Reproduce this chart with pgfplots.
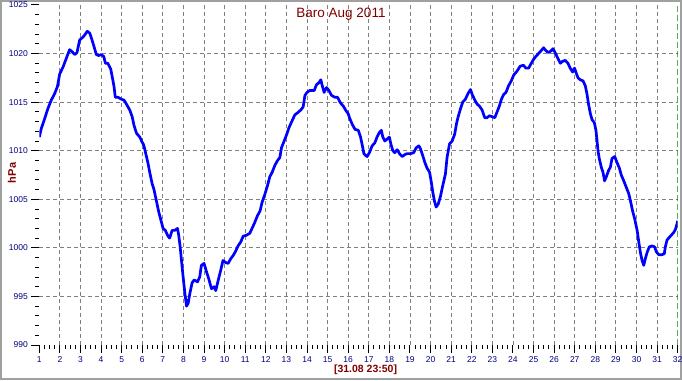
\documentclass[border=0pt]{standalone}
\usepackage{pgfplots}
\pgfplotsset{compat=1.18}
\usepackage{fontspec}
\setmainfont{Liberation Sans}
\definecolor{maroonT}{HTML}{800000}
\definecolor{navyT}{HTML}{000080}
\definecolor{gridT}{HTML}{808080}
\definecolor{greenT}{HTML}{008000}
\definecolor{frameT}{HTML}{A0A0A0}
\begin{document}
\begin{tikzpicture}[x=1pt,y=1pt]
\path[use as bounding box] (0,0) rectangle (682,380);
\draw[frameT, line width=1.6pt] (0.8,0.8) rectangle (681.2,379.2);
\begin{axis}[
  at={(39.3pt,35pt)}, anchor=south west,
  scale only axis, width=638.4pt, height=340pt,
  xmin=1, xmax=32, ymin=990, ymax=1025,
  xtick={1,...,32}, ytick={990,995,...,1025},
  minor x tick num=3, minor y tick num=4,
  axis lines*=left,
  axis line style={draw=none},
  tick align=outside,
  major tick length=8pt, minor tick length=4pt,
  tick style={black, line width=1pt},
  ticklabel style={font=\fontsize{8.5}{10}\selectfont, text=navyT},
  /pgf/number format/assume math mode=true,
  /pgf/number format/1000 sep={},
  extra x ticks={2,...,31}, extra x tick labels={},
  extra y ticks={995,1000,...,1020}, extra y tick labels={},
  extra tick style={grid=major, major tick length=0pt,
     major grid style={gridT, dash pattern=on 4pt off 3pt, line width=0.9pt}},
  title={Baro Aug 2011},
  every axis title/.style={font=\fontsize{13.5}{15}\selectfont, text=maroonT,
     at={(axis description cs:0.4726,0.9735)}, anchor=center},
  xlabel={[31.08 23:50]},
  xlabel style={font=\bfseries\fontsize{10.5}{12}\selectfont, text=maroonT,
     at={(axis description cs:0.511,-0.0715)}, anchor=center},
  ylabel={hPa},
  every axis y label/.style={font=\bfseries\fontsize{11}{13}\selectfont, text=maroonT,
     at={(axis description cs:-0.0428,0.506)}, anchor=center, rotate=90},
]
\addplot[color=blue, line width=2.7pt, line join=round] table {
1.0 1011.4
1.1 1012.3
1.26 1013.3
1.42 1014.35
1.58 1015.2
1.75 1015.9
1.88 1016.6
1.99 1017.9
2.15 1018.6
2.31 1019.5
2.47 1020.4
2.59 1020.2
2.72 1019.9
2.83 1020.1
2.96 1021.4
3.12 1021.7
3.2 1021.9
3.33 1022.3
3.45 1022.1
3.56 1021.4
3.66 1020.7
3.77 1019.9
3.88 1019.8
4.01 1019.9
4.13 1019.7
4.21 1019.0
4.33 1019.0
4.47 1018.4
4.56 1017.4
4.63 1016.6
4.69 1015.5
4.82 1015.5
4.99 1015.3
5.12 1015.2
5.23 1014.8
5.39 1014.2
5.51 1013.5
5.6 1012.6
5.72 1011.8
5.88 1011.4
5.99 1010.9
6.07 1010.6
6.17 1009.7
6.28 1008.7
6.36 1007.8
6.48 1006.6
6.57 1006.0
6.69 1004.8
6.8 1003.7
6.9 1002.9
7.01 1002.0
7.12 1001.8
7.25 1001.2
7.33 1001.0
7.45 1001.8
7.58 1001.8
7.71 1002.0
7.77 1001.3
7.84 1000.1
7.9 998.8
7.98 997.1
8.07 995.3
8.15 994.0
8.23 994.3
8.31 995.3
8.42 996.4
8.52 996.7
8.68 996.5
8.79 997.0
8.87 998.2
9.0 998.4
9.11 997.6
9.23 996.8
9.36 995.8
9.49 996.0
9.57 995.6
9.68 996.6
9.81 997.7
9.92 998.7
10.04 998.5
10.17 998.4
10.3 998.9
10.41 999.2
10.52 999.6
10.65 1000.2
10.78 1000.6
10.9 1001.2
11.06 1001.3
11.22 1001.5
11.33 1002.0
11.46 1002.6
11.59 1003.3
11.72 1003.8
11.82 1004.7
11.95 1005.5
12.08 1006.4
12.19 1007.3
12.31 1007.8
12.44 1008.5
12.57 1009.0
12.68 1009.3
12.76 1010.3
12.89 1011.0
13.0 1011.6
13.13 1012.4
13.28 1013.1
13.41 1013.7
13.54 1013.9
13.7 1014.2
13.81 1014.5
13.9 1015.7
14.0 1016.0
14.13 1016.2
14.35 1016.2
14.46 1016.8
14.58 1017.0
14.67 1017.3
14.74 1016.7
14.83 1016.0
14.95 1016.5
15.06 1016.2
15.19 1015.7
15.35 1015.5
15.48 1015.5
15.63 1014.9
15.76 1014.6
15.87 1014.2
16.0 1013.8
16.08 1013.3
16.2 1012.7
16.33 1012.2
16.49 1012.1
16.6 1011.4
16.68 1010.6
16.76 1009.7
16.85 1009.5
16.92 1009.4
17.03 1009.8
17.16 1010.5
17.29 1010.8
17.4 1011.4
17.52 1011.9
17.61 1012.1
17.68 1011.4
17.78 1011.0
17.89 1011.2
18.0 1011.4
18.07 1010.7
18.17 1010.0
18.26 1009.8
18.38 1010.1
18.49 1009.7
18.62 1009.4
18.75 1009.6
18.86 1009.7
19.02 1009.7
19.18 1009.8
19.3 1010.3
19.43 1010.5
19.51 1010.2
19.62 1009.5
19.72 1008.8
19.83 1008.2
19.95 1007.8
20.04 1006.7
20.11 1005.7
20.19 1004.8
20.27 1004.2
20.37 1004.5
20.48 1005.3
20.59 1006.4
20.72 1007.6
20.8 1009.3
20.92 1010.7
21.05 1011.0
21.17 1011.7
21.26 1012.8
21.34 1013.5
21.45 1014.3
21.56 1015.0
21.69 1015.3
21.82 1015.9
21.94 1016.3
22.02 1015.8
22.15 1015.2
22.26 1014.8
22.37 1014.6
22.5 1014.2
22.63 1013.4
22.74 1013.4
22.86 1013.6
22.99 1013.5
23.12 1013.4
23.23 1014.0
23.34 1014.6
23.44 1015.3
23.55 1015.8
23.66 1016.0
23.79 1016.7
23.92 1017.2
24.04 1017.8
24.2 1018.2
24.35 1018.7
24.51 1018.8
24.63 1018.5
24.76 1018.5
24.89 1019.0
25.0 1019.4
25.11 1019.7
25.24 1020.0
25.37 1020.3
25.49 1020.6
25.6 1020.3
25.73 1020.1
25.86 1020.3
25.94 1020.5
26.05 1020.1
26.18 1019.5
26.3 1019.0
26.41 1019.2
26.54 1019.3
26.67 1019.0
26.78 1018.5
26.9 1018.1
26.99 1018.5
27.07 1018.0
27.16 1017.5
27.27 1017.3
27.4 1017.2
27.51 1016.7
27.59 1015.9
27.67 1014.8
27.76 1013.8
27.84 1013.2
27.95 1012.9
28.03 1012.1
28.08 1011.1
28.13 1010.0
28.19 1009.2
28.29 1008.3
28.37 1007.8
28.45 1006.9
28.53 1007.3
28.65 1008.0
28.73 1008.3
28.81 1009.2
28.94 1009.4
29.05 1008.8
29.17 1008.2
29.26 1007.5
29.38 1006.9
29.49 1006.3
29.62 1005.6
29.7 1004.9
29.81 1003.8
29.91 1003.0
30.03 1001.8
30.11 1000.6
30.19 999.5
30.27 998.7
30.35 998.2
30.43 998.9
30.51 999.5
30.62 1000.1
30.75 1000.2
30.88 1000.1
30.96 999.6
31.08 999.3
31.24 999.3
31.35 999.4
31.4 1000.1
31.48 1000.8
31.6 1001.1
31.73 1001.4
31.81 1001.6
31.89 1001.9
31.97 1002.5
32.0 1002.8
};
\draw[greenT, line width=1.3pt, dash pattern=on 6pt off 3pt] (axis cs:32,990) -- (axis cs:32,1025);
\end{axis}
\end{tikzpicture}
\end{document}
